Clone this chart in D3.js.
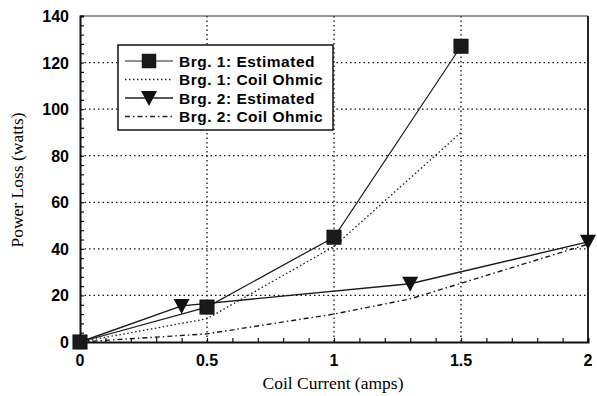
<!DOCTYPE html>
<html><head><meta charset="utf-8">
<script src="https://cdn.jsdelivr.net/npm/d3@7"></script>
<style>body{margin:0;background:#fff}</style>
</head><body><svg id="c" width="597" height="396"></svg>
<script>
const xTicks = [0, 0.5, 1, 1.5, 2];
const xTickLabels = ["0", "0.5", "1", "1.5", "2"];
const yTicks = [0, 20, 40, 60, 80, 100, 120, 140];
const brg1EstX = [0, 0.5, 1, 1.5];
const brg1EstY = [0, 15, 45, 127];
const brg1OhmX = [0, 0.5, 1, 1.5];
const brg1OhmY = [0, 10, 41, 90];
const brg2EstX = [0, 0.4, 1.3, 2];
const brg2EstY = [0, 15.5, 25, 43];
const brg2OhmX = [0, 0.5, 1, 1.3, 2];
const brg2OhmY = [0, 3.5, 12, 18.5, 42];
const legendLabels = ["Brg. 1: Estimated", "Brg. 1: Coil Ohmic", "Brg. 2: Estimated", "Brg. 2: Coil Ohmic"];

const svg = d3.select("#c");
const L = 80, R = 588, T = 16, B = 342;
const x = d3.scaleLinear().domain([0, 2]).range([L, R]);
const y = d3.scaleLinear().domain([0, 140]).range([B, T]);

// grid
const g = svg.append("g");
g.selectAll(".gx").data(xTicks.slice(1, -1)).enter().append("line")
  .attr("x1", d => x(d)).attr("x2", d => x(d)).attr("y1", T).attr("y2", B)
  .attr("stroke", "#111").attr("stroke-width", 1.3).attr("stroke-dasharray", "1.5,3");
g.selectAll(".gy").data(yTicks.slice(1, -1)).enter().append("line")
  .attr("y1", d => y(d)).attr("y2", d => y(d)).attr("x1", L).attr("x2", R)
  .attr("stroke", "#111").attr("stroke-width", 1.3).attr("stroke-dasharray", "1.5,3");

// frame
svg.append("line").attr("x1", L).attr("x2", R).attr("y1", T).attr("y2", T).attr("stroke", "#333").attr("stroke-width", 1.2);
svg.append("line").attr("x1", R).attr("x2", R).attr("y1", T).attr("y2", B).attr("stroke", "#111").attr("stroke-width", 1.8);

// axes
const xAxis = d3.axisBottom(x).tickValues(d3.range(0, 2.0001, 0.1)).tickSize(-4).tickFormat("");
svg.append("g").attr("transform", `translate(0,${B})`).call(xAxis)
  .call(s => s.select(".domain").attr("stroke-width", 2).attr("stroke", "#111"))
  .call(s => s.selectAll(".tick line").attr("stroke", "#111").attr("stroke-width", 1.2));
const yAxis = d3.axisLeft(y).tickValues(d3.range(0, 140.001, 4)).tickSize(-4).tickFormat("");
svg.append("g").attr("transform", `translate(${L},0)`).call(yAxis)
  .call(s => s.select(".domain").attr("stroke-width", 2).attr("stroke", "#111"))
  .call(s => s.selectAll(".tick line").attr("stroke", "#111").attr("stroke-width", 1.2));

// tick labels
svg.selectAll(".xl").data(xTicks).enter().append("text")
  .attr("x", d => x(d)).attr("y", 366).attr("text-anchor", "middle")
  .attr("font-family", "Liberation Sans, Arial, sans-serif").attr("font-weight", "bold").attr("font-size", 16)
  .text((d, i) => xTickLabels[i]);
svg.selectAll(".yl").data(yTicks).enter().append("text")
  .attr("x", 69).attr("y", d => y(d) + 6).attr("text-anchor", "end")
  .attr("font-family", "Liberation Sans, Arial, sans-serif").attr("font-weight", "bold").attr("font-size", 16)
  .text(d => d);

// titles
svg.append("text").attr("x", 333).attr("y", 389).attr("text-anchor", "middle")
  .attr("font-family", "Liberation Serif, Times New Roman, serif").attr("font-size", 17.5)
  .text("Coil Current (amps)");
svg.append("text").attr("transform", "translate(23,180) rotate(-90)").attr("text-anchor", "middle")
  .attr("font-family", "Liberation Serif, Times New Roman, serif").attr("font-size", 17.5)
  .text("Power Loss (watts)");

const line = d3.line().x(d => x(d[0])).y(d => y(d[1]));
const zip = (a, b) => a.map((v, i) => [v, b[i]]);
const styles = [
  {dash: null, w: 1.2},
  {dash: "1.5,2.5", w: 1.3},
  {dash: null, w: 1.4},
  {dash: "5,3,1.5,3", w: 1.4}
];
const series = [zip(brg1EstX, brg1EstY), zip(brg1OhmX, brg1OhmY), zip(brg2EstX, brg2EstY), zip(brg2OhmX, brg2OhmY)];
series.forEach((s, i) => {
  svg.append("path").attr("d", line(s)).attr("fill", "none").attr("stroke", "#1a1a1a")
    .attr("stroke-width", styles[i].w).attr("stroke-dasharray", styles[i].dash);
});

const sq = d3.symbol().type(d3.symbolSquare).size(210);
const tri = () => "M-8,-7L8,-7L0,8Z";
svg.selectAll(".m1").data(series[0]).enter().append("path")
  .attr("d", sq()).attr("transform", d => `translate(${x(d[0])},${y(d[1])})`)
  .attr("fill", "#1a1a1a").attr("stroke", "#000").attr("stroke-width", 0.5);
svg.selectAll(".m2").data(series[2].slice(1)).enter().append("path")
  .attr("d", tri()).attr("transform", d => `translate(${x(d[0])},${y(d[1])})`)
  .attr("fill", "#111");

// legend
const lg = svg.append("g");
lg.append("rect").attr("x", 118).attr("y", 45).attr("width", 215).attr("height", 85)
  .attr("fill", "#fff").attr("stroke", "#111").attr("stroke-width", 1.5);
legendLabels.forEach((t, i) => {
  const yy = 61 + i * 18.5;
  lg.append("line").attr("x1", 125).attr("x2", 173).attr("y1", yy).attr("y2", yy)
    .attr("stroke", "#222").attr("stroke-width", styles[i].w).attr("stroke-dasharray", styles[i].dash);
  if (i === 0) lg.append("path").attr("d", sq()).attr("transform", `translate(149,${yy})`).attr("fill", "#1a1a1a");
  if (i === 2) lg.append("path").attr("d", tri()).attr("transform", `translate(149,${yy})`).attr("fill", "#111");
  lg.append("text").attr("x", 179).attr("y", yy + 5.5).attr("font-family", "Liberation Sans, Arial, sans-serif")
    .attr("font-weight", "bold").attr("font-size", 15.5).attr("letter-spacing", 0.5).text(t);
});
</script></body></html>
